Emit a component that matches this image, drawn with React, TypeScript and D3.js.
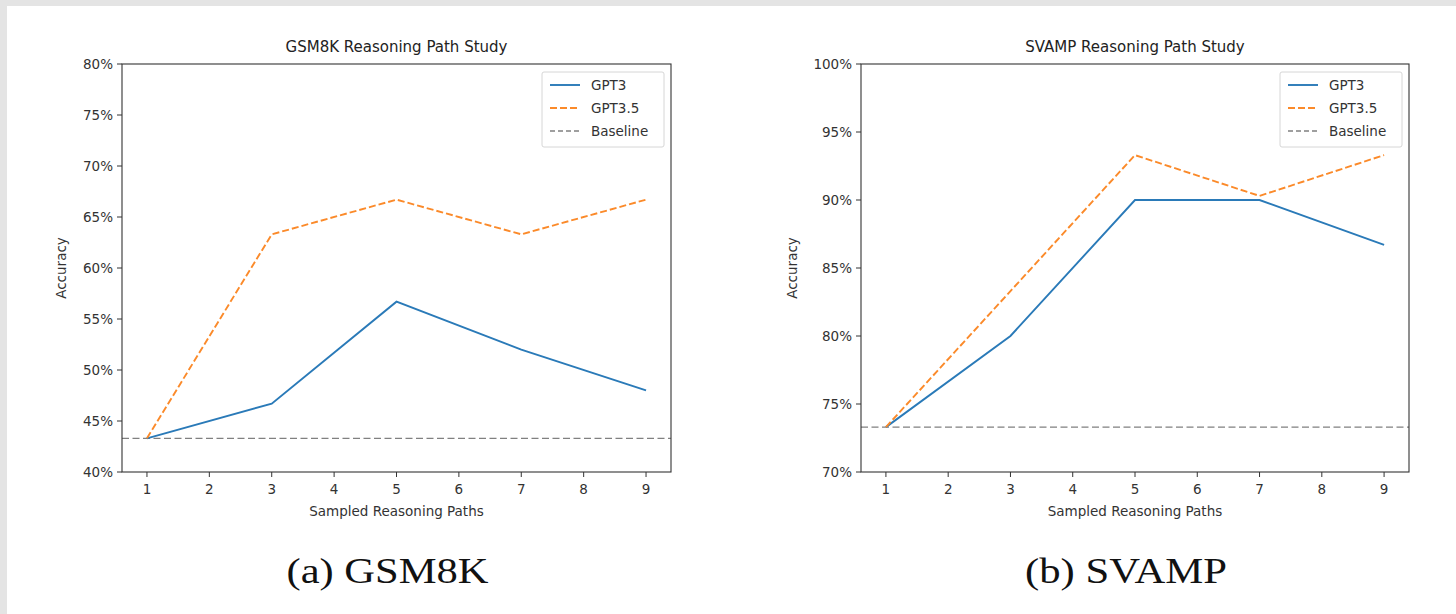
import React from 'react';
import * as d3 from 'd3';

const paths = [1, 3, 5, 7, 9];
const xTicks = [1, 2, 3, 4, 5, 6, 7, 8, 9];

const gsmGpt3 = [43.3, 46.7, 56.7, 52.0, 48.0];
const gsmGpt35 = [43.3, 63.3, 66.7, 63.3, 66.7];
const gsmBaseline = 43.3;
const gsmYTicks = [40, 45, 50, 55, 60, 65, 70, 75, 80];

const svampGpt3 = [73.3, 80.0, 90.0, 90.0, 86.7];
const svampGpt35 = [73.3, 83.3, 93.3, 90.3, 93.3];
const svampBaseline = 73.3;
const svampYTicks = [70, 75, 80, 85, 90, 95, 100];

const seriesNames = ['GPT3', 'GPT3.5', 'Baseline'];

const BLUE = '#2a7ab8';
const ORANGE = '#fb8a2a';
const GRAY = '#808080';
const FONT = 'DejaVu Sans';
const LBL = 13.5;

type PanelProps = {
    left: number;
    right: number;
    top: number;
    bottom: number;
    title: string;
    gpt3: number[];
    gpt35: number[];
    baseline: number;
    yTicks: number[];
    yLabelX: number;
    caption: string;
};

function Panel(props: PanelProps) {
    const { left, right, top, bottom, title, gpt3, gpt35, baseline, yTicks, yLabelX, caption } = props;
    const x = d3.scaleLinear().domain([0.6, 9.4]).range([left, right]);
    const y = d3.scaleLinear().domain([yTicks[0], yTicks[yTicks.length - 1]]).range([bottom, top]);
    const line = d3.line<number>()
        .x((d, i) => x(paths[i]))
        .y(d => y(d));
    const cx = (left + right) / 2;
    const cy = (top + bottom) / 2;

    const lx = right - 7 - 122;
    const ly = top + 8;

    return (
        <g>
            <text x={cx} y={top - 12} textAnchor="middle" fontFamily={FONT} fontSize={15} fill="#222">{title}</text>
            {/* baseline */}
            <line x1={left} x2={right} y1={y(baseline)} y2={y(baseline)}
                  stroke={GRAY} strokeWidth={1.4} strokeDasharray="7,3.5"/>
            <path d={line(gpt3) || ''} fill="none" stroke={BLUE} strokeWidth={1.9}/>
            <path d={line(gpt35) || ''} fill="none" stroke={ORANGE} strokeWidth={1.9} strokeDasharray="7,3"/>
            {/* frame */}
            <rect x={left} y={top} width={right - left} height={bottom - top}
                  fill="none" stroke="#333" strokeWidth={1.1}/>
            {yTicks.map(t => (
                <g key={t}>
                    <line x1={left - 5} x2={left} y1={y(t)} y2={y(t)} stroke="#333"/>
                    <text x={left - 9} y={y(t) + 5} textAnchor="end" fontFamily={FONT} fontSize={LBL} fill="#333">{t}%</text>
                </g>
            ))}
            {xTicks.map(t => (
                <g key={t}>
                    <line x1={x(t)} x2={x(t)} y1={bottom} y2={bottom + 5} stroke="#333"/>
                    <text x={x(t)} y={bottom + 22} textAnchor="middle" fontFamily={FONT} fontSize={LBL} fill="#333">{t}</text>
                </g>
            ))}
            <text x={cx} y={bottom + 44} textAnchor="middle" fontFamily={FONT} fontSize={LBL} fill="#333">Sampled Reasoning Paths</text>
            <text transform={`translate(${yLabelX},${cy}) rotate(-90)`} textAnchor="middle"
                  fontFamily={FONT} fontSize={LBL} fill="#333">Accuracy</text>
            {/* legend */}
            <rect x={lx} y={ly} width={122} height={75} rx={2} fill="#fff" stroke="#d6d6d6" strokeWidth={1}/>
            {seriesNames.map((name, i) => {
                const ry = ly + 13 + i * 23;
                const stroke = i === 0 ? BLUE : i === 1 ? ORANGE : GRAY;
                const dash = i === 0 ? undefined : i === 1 ? '7,3' : '5,3';
                return (
                    <g key={name}>
                        <line x1={lx + 8} x2={lx + 38} y1={ry} y2={ry} stroke={stroke}
                              strokeWidth={i === 2 ? 1.4 : 1.9} strokeDasharray={dash}/>
                        <text x={lx + 49} y={ry + 5} fontFamily={FONT} fontSize={LBL} fill="#333">{name}</text>
                    </g>
                );
            })}
            <text x={cx - 9} y={583} textAnchor="middle" fontFamily="Liberation Serif" fontSize={36}
                  textLength={202} lengthAdjust="spacingAndGlyphs" fill="#111">{caption}</text>
        </g>
    );
}

export default function App() {
    const W = 1456;
    const H = 614;
    return (
        <div style={{ position: 'fixed', left: 0, top: 0, width: W, height: H }}>
            <svg width={W} height={H} style={{ display: 'block' }}>
                <rect x={0} y={0} width={W} height={H} fill="#e4e4e4"/>
                <rect x={7} y={6} width={W - 7} height={H - 6} fill="#fff"/>
                <Panel left={122} right={671} top={64} bottom={472}
                       title="GSM8K Reasoning Path Study"
                       gpt3={gsmGpt3} gpt35={gsmGpt35} baseline={gsmBaseline}
                       yTicks={gsmYTicks} yLabelX={66} caption="(a) GSM8K"/>
                <Panel left={861} right={1409} top={64} bottom={472}
                       title="SVAMP Reasoning Path Study"
                       gpt3={svampGpt3} gpt35={svampGpt35} baseline={svampBaseline}
                       yTicks={svampYTicks} yLabelX={797} caption="(b) SVAMP"/>
            </svg>
        </div>
    );
}
